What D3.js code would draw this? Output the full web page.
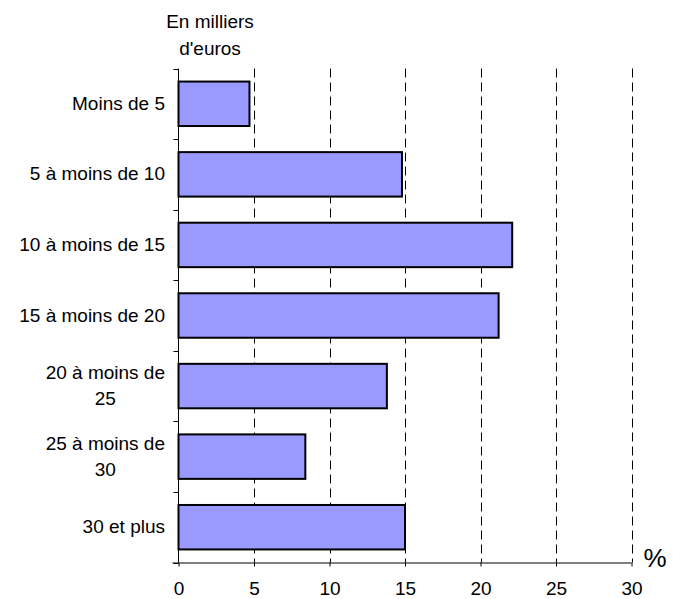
<!DOCTYPE html>
<html>
<head>
<meta charset="utf-8">
<script src="https://cdn.jsdelivr.net/npm/d3@7"></script>
<style>
  html, body { margin: 0; padding: 0; background: #fff; }
  svg text { font-family: "Liberation Sans", Arial, sans-serif; fill: #000; }
</style>
</head>
<body>
<svg id="chart" width="680" height="599"></svg>
<script>
// Income brackets (thousands of euros) and share of households (%)
const categories = [
  ["Moins de 5"],
  ["5 à moins de 10"],
  ["10 à moins de 15"],
  ["15 à moins de 20"],
  ["20 à moins de", "25"],
  ["25 à moins de", "30"],
  ["30 et plus"]
];
const values = [4.7, 14.8, 22.1, 21.2, 13.8, 8.4, 15.0];
const xTicks = [0, 5, 10, 15, 20, 25, 30];
const unitLabel = ["En milliers", "d'euros"];
const percentLabel = "%";

const svg = d3.select("#chart");
const plotLeft = 178.5, plotRight = 631.5, plotTop = 68.5, plotBottom = 562.5;
const fontSize = "19px";

const x = d3.scaleLinear().domain([0, 30]).range([plotLeft, plotRight]);
const y = d3.scaleBand()
  .domain(d3.range(categories.length))
  .range([plotTop, plotBottom])
  .paddingInner(0.37)
  .paddingOuter(0.185);

// dashed vertical gridlines
svg.append("g")
  .selectAll("line")
  .data(xTicks.filter(d => d > 0))
  .join("line")
  .attr("x1", d => Math.round(x(d)) + 0.5)
  .attr("x2", d => Math.round(x(d)) + 0.5)
  .attr("y1", plotTop)
  .attr("y2", plotBottom)
  .attr("stroke", "#000")
  .attr("stroke-width", 1)
  .attr("stroke-dasharray", "9,5");

// bars
svg.append("g")
  .selectAll("rect")
  .data(values)
  .join("rect")
  .attr("x", x(0))
  .attr("y", (d, i) => y(i))
  .attr("width", d => x(d) - x(0))
  .attr("height", y.bandwidth())
  .attr("fill", "#9999FF")
  .attr("stroke", "#000")
  .attr("stroke-width", 2);

// bottom axis
const xAxis = d3.axisBottom(x).tickValues(xTicks).tickSize(4).tickSizeOuter(0).tickPadding(15);
const gx = svg.append("g").attr("transform", `translate(0,${plotBottom})`).call(xAxis);
gx.select(".domain").attr("d", `M${plotLeft - 6},0.5H${plotRight}`).attr("stroke", "#000");
gx.selectAll(".tick line").attr("stroke", "#000");
gx.selectAll(".tick text")
  .style("font-family", "'Liberation Sans', Arial, sans-serif")
  .style("font-size", fontSize)
  .attr("fill", "#000");

// left axis line with ticks at category boundaries
const boundaries = d3.range(categories.length + 1).map(i => plotTop + i * y.step());
svg.append("line")
  .attr("x1", plotLeft).attr("x2", plotLeft)
  .attr("y1", plotTop).attr("y2", plotBottom)
  .attr("stroke", "#000").attr("stroke-width", 1);
svg.append("g")
  .selectAll("line")
  .data(boundaries)
  .join("line")
  .attr("x1", plotLeft - 5).attr("x2", plotLeft)
  .attr("y1", d => Math.round(d) + 0.5)
  .attr("y2", d => Math.round(d) + 0.5)
  .attr("stroke", "#000");

// category labels: right aligned block, multi-line labels centred within it
const labelRight = 165;
const lineH = 26;
const catG = svg.append("g").style("font-size", fontSize);
categories.forEach((lines, i) => {
  const cy = y(i) + y.bandwidth() / 2 + 6;
  const t = catG.append("text");
  lines.forEach((ln, k) => {
    t.append("tspan").text(ln)
      .attr("y", cy + (k - (lines.length - 1) / 2) * lineH);
  });
  const widths = [];
  t.selectAll("tspan").each(function () { widths.push(this.getComputedTextLength()); });
  const maxW = d3.max(widths);
  const cx = labelRight - maxW / 2;
  t.attr("text-anchor", "middle");
  t.selectAll("tspan").attr("x", cx);
});

// unit label above the category axis
const unit = svg.append("text")
  .attr("text-anchor", "middle")
  .style("font-size", fontSize);
unitLabel.forEach((ln, k) => {
  unit.append("tspan").attr("x", 210).attr("y", 28 + k * 27).text(ln);
});

// percent sign at the end of the value axis
svg.append("text")
  .attr("x", 655)
  .attr("y", 567)
  .attr("text-anchor", "middle")
  .style("font-size", "26px")
  .text(percentLabel);
</script>
</body>
</html>
